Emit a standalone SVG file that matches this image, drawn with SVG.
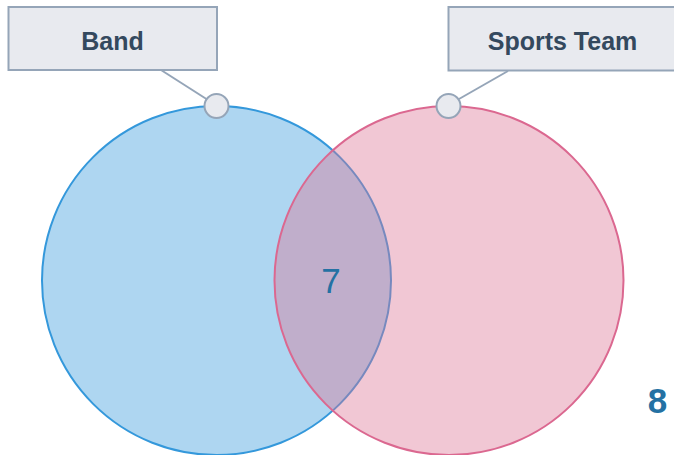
<svg xmlns="http://www.w3.org/2000/svg" width="674" height="455" viewBox="0 0 674 455">
<style>
.lbl{fill:#e8eaef;stroke:#95a5b8;stroke-width:2}
.lt{font-family:"Liberation Sans",Arial,sans-serif;font-weight:bold;font-size:25px;fill:#34495e;text-anchor:middle}
.dot{fill:#e8eaef;stroke:#95a5b8;stroke-width:2}
.conn{stroke:#95a5b8;stroke-width:2;fill:none}
.num{font-family:"Liberation Sans",Arial,sans-serif;font-size:35px;fill:#2471a3;text-anchor:middle}
</style>
<rect width="674" height="455" fill="#ffffff"/>
<g id="set-band">
<circle cx="216.5" cy="280.5" r="174.5" fill="#3498db" fill-opacity="0.4" stroke="#3498db" stroke-width="2"/>
</g>
<g id="set-sports">
<circle cx="449" cy="280.5" r="174.5" fill="#db7294" fill-opacity="0.4" stroke="#db6890" stroke-width="2"/>
</g>
<g id="connectors">
<line class="conn" x1="161" y1="70" x2="208" y2="100"/>
<line class="conn" x1="508" y1="71" x2="459" y2="99"/>
</g>
<g id="label-band">
<rect class="lbl" x="8.5" y="7" width="208.5" height="63"/>
<text class="lt" x="112.5" y="50">Band</text>
<circle class="dot" cx="216.5" cy="106" r="12"/>
</g>
<g id="label-sports">
<rect class="lbl" x="448.5" y="7" width="229" height="63.5"/>
<text class="lt" x="562.5" y="50">Sports Team</text>
<circle class="dot" cx="448.5" cy="106" r="12"/>
</g>
<g id="intersection">
<text class="num" x="331" y="293">7</text>
</g>
<g id="outside">
<text class="num" x="657.5" y="413" font-weight="bold">8</text>
</g>
</svg>
